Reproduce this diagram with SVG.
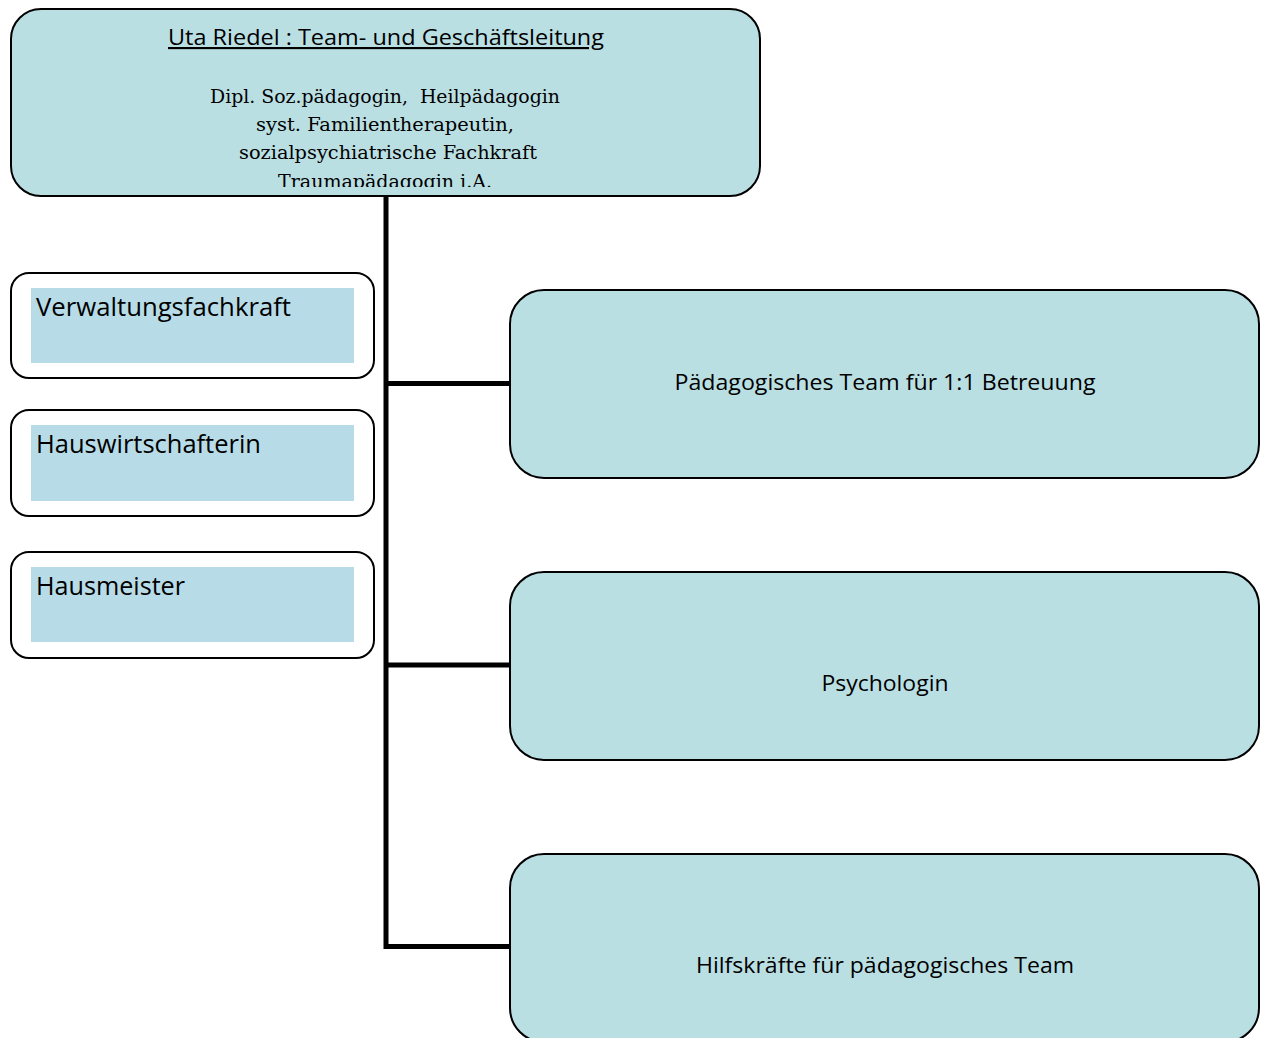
<svg xmlns="http://www.w3.org/2000/svg" width="1262" height="1038" viewBox="0 0 1262 1038">
<defs>
<style>
.box{fill:#badfe3;stroke:#000;stroke-width:2}
.wbox{fill:#fff;stroke:#000;stroke-width:2}
.inner{fill:#b7dce7}
.sans{font-family:"Open Sans","Liberation Sans",sans-serif;fill:#000}
.serif{font-family:"DejaVu Serif","Liberation Serif",serif;fill:#000;font-size:18px}
.conn{stroke:#000;stroke-width:5;fill:none}
</style>
<clipPath id="topclip"><rect x="12" y="10" width="747" height="177"/></clipPath>
</defs>
<rect width="1262" height="1038" fill="#fff"/>
<g id="connectors">
<path class="conn" d="M386 196 V946.5 H511"/>
<path class="conn" d="M386 383.5 H511"/>
<path class="conn" d="M386 665 H511"/>
</g>
<g id="leitung">
<rect class="box" x="11" y="9" width="749" height="187" rx="30"/>
<text class="sans" x="386" y="45" font-size="21.5" text-anchor="middle" text-decoration="underline" textLength="436" lengthAdjust="spacingAndGlyphs">Uta Riedel : Team- und Geschäftsleitung</text>
<g clip-path="url(#topclip)">
<text class="serif" x="385" y="103" text-anchor="middle" textLength="350" lengthAdjust="spacingAndGlyphs" xml:space="preserve">Dipl. Soz.pädagogin,  Heilpädagogin</text>
<text class="serif" x="385" y="131" text-anchor="middle" textLength="258" lengthAdjust="spacingAndGlyphs">syst. Familientherapeutin,</text>
<text class="serif" x="388" y="159" text-anchor="middle" textLength="298" lengthAdjust="spacingAndGlyphs">sozialpsychiatrische Fachkraft</text>
<text class="serif" x="385" y="188" text-anchor="middle" textLength="214" lengthAdjust="spacingAndGlyphs">Traumapädagogin i.A.</text>
</g>
</g>
<g id="verwaltung">
<rect class="wbox" x="11" y="273" width="363" height="105" rx="18"/>
<rect class="inner" x="31" y="288" width="323" height="75"/>
<text class="sans" x="36" y="316" font-size="25" textLength="255" lengthAdjust="spacingAndGlyphs">Verwaltungsfachkraft</text>
</g>
<g id="hauswirtschaft">
<rect class="wbox" x="11" y="410" width="363" height="106" rx="18"/>
<rect class="inner" x="31" y="425" width="323" height="76"/>
<text class="sans" x="36" y="453" font-size="25" textLength="225" lengthAdjust="spacingAndGlyphs">Hauswirtschafterin</text>
</g>
<g id="hausmeister">
<rect class="wbox" x="11" y="552" width="363" height="106" rx="18"/>
<rect class="inner" x="31" y="567" width="323" height="75"/>
<text class="sans" x="36" y="595" font-size="25" textLength="149" lengthAdjust="spacingAndGlyphs">Hausmeister</text>
</g>
<g id="paed-team">
<rect class="box" x="510" y="290" width="749" height="188" rx="34"/>
<text class="sans" x="885" y="390" font-size="21.5" text-anchor="middle" textLength="421" lengthAdjust="spacingAndGlyphs">Pädagogisches Team für 1:1 Betreuung</text>
</g>
<g id="psychologin">
<rect class="box" x="510" y="572" width="749" height="188" rx="34"/>
<text class="sans" x="885" y="691" font-size="21.5" text-anchor="middle" textLength="127" lengthAdjust="spacingAndGlyphs">Psychologin</text>
</g>
<g id="hilfskraefte">
<rect class="box" x="510" y="854" width="749" height="188" rx="34"/>
<text class="sans" x="885" y="973" font-size="21.5" text-anchor="middle" textLength="378" lengthAdjust="spacingAndGlyphs">Hilfskräfte für pädagogisches Team</text>
</g>
</svg>
